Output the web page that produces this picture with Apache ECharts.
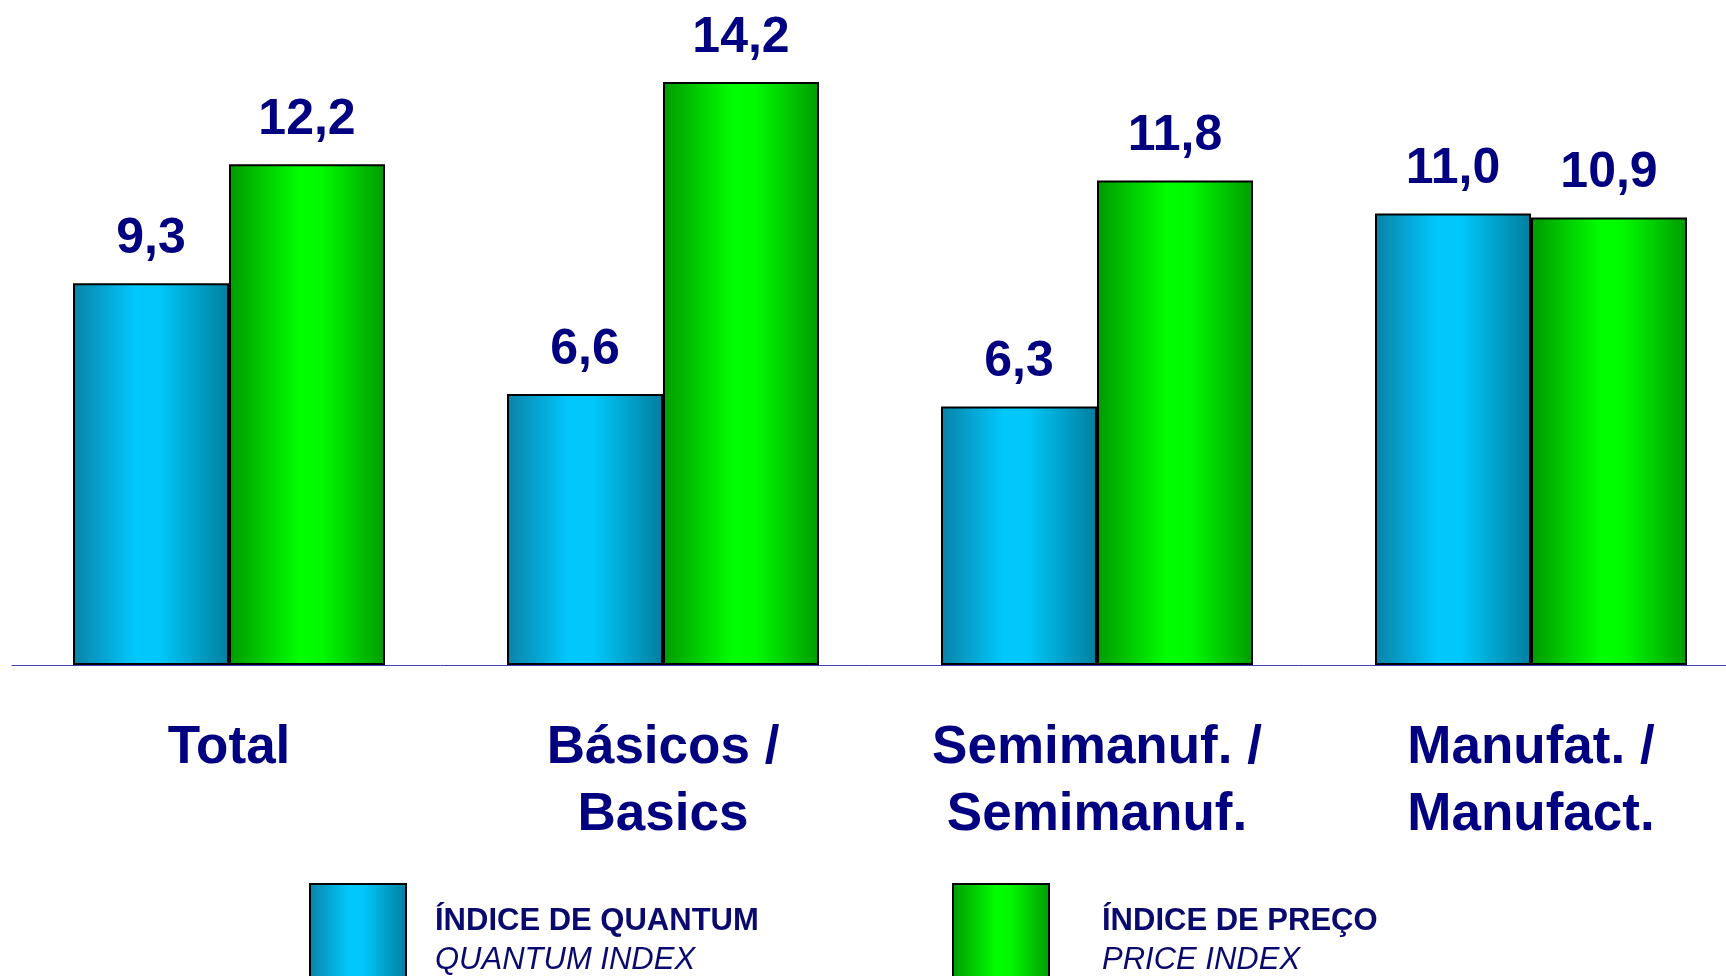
<!DOCTYPE html>
<html>
<head>
<meta charset="utf-8">
<script src="https://cdn.jsdelivr.net/npm/echarts@6/dist/echarts.min.js"></script>
<style>
html,body{margin:0;padding:0;background:#fff;overflow:hidden;}
#main{width:1726px;height:976px;}
</style>
</head>
<body>
<div id="main"></div>
<script>
const categories = ['Total', 'Básicos /\nBasics', 'Semimanuf. /\nSemimanuf.', 'Manufat. /\nManufact.'];
const quantumValues = [9.3, 6.6, 6.3, 11.0];
const priceValues = [12.2, 14.2, 11.8, 10.9];
const seriesNames = ['ÍNDICE DE QUANTUM', 'ÍNDICE DE PREÇO'];
const seriesNamesEn = ['QUANTUM INDEX', 'PRICE INDEX'];

const FONT = "'Liberation Sans', Arial, Helvetica, sans-serif";
const NAVY = '#000080';

const blueGrad = new echarts.graphic.LinearGradient(0, 0, 1, 0, [
  {offset: 0, color: '#0a82a8'},
  {offset: 0.4, color: '#00c8fc'},
  {offset: 0.55, color: '#00c8fa'},
  {offset: 1, color: '#007e9e'}
]);
const greenGrad = new echarts.graphic.LinearGradient(0, 0, 1, 0, [
  {offset: 0, color: '#009a00'},
  {offset: 0.45, color: '#00ff00'},
  {offset: 0.6, color: '#00f800'},
  {offset: 1, color: '#009c00'}
]);

function fmt(v){ return v.toFixed(1).replace('.', ','); }

const chart = echarts.init(document.getElementById('main'), null, {renderer: 'canvas'});

const legendRich = {
  a: {fontFamily: FONT, fontWeight: 'bold', fontSize: 31, color: '#0a0a6e', lineHeight: 39},
  b: {fontFamily: FONT, fontStyle: 'italic', fontWeight: 'normal', fontSize: 31, color: '#0a0a6e', lineHeight: 39}
};

chart.setOption({
  animation: false,
  backgroundColor: '#ffffff',
  grid: {left: 12, width: 1736, top: 0, bottom: 311, containLabel: false, outerBoundsMode: 'none'},
  legend: [
    {
      data: [seriesNames[0]],
      left: 309, top: 883, padding: 0,
      itemWidth: 96, itemHeight: 110,
      icon: 'rect',
      selectedMode: false,
      formatter: function(){ return '{a|' + seriesNames[0] + '}\n{b|' + seriesNamesEn[0] + '}'; },
      textStyle: {rich: legendRich, padding: [4, 0, 0, 24]}
    },
    {
      data: [seriesNames[1]],
      left: 952, top: 883, padding: 0,
      itemWidth: 96, itemHeight: 110,
      icon: 'rect',
      selectedMode: false,
      formatter: function(){ return '{a|' + seriesNames[1] + '}\n{b|' + seriesNamesEn[1] + '}'; },
      textStyle: {rich: legendRich, padding: [4, 0, 0, 48]}
    }
  ],
  xAxis: {
    type: 'category',
    data: categories,
    axisLine: {show: true, lineStyle: {color: '#4040b0', width: 1}},
    axisTick: {show: false},
    axisLabel: {
      margin: 50,
      fontFamily: FONT, fontWeight: 'bold', fontSize: 53, color: NAVY,
      lineHeight: 67, verticalAlign: 'top', interval: 0
    }
  },
  yAxis: {
    type: 'value', min: 0, max: 16.2,
    show: false,
    splitLine: {show: false}
  },
  series: [
    {
      name: seriesNames[0], type: 'bar', data: quantumValues,
      barWidth: 156, barGap: '0%',
      itemStyle: {color: blueGrad, borderColor: '#000000', borderWidth: 2},
      label: {
        show: true, position: 'top', distance: 19,
        formatter: function(p){ return fmt(p.value); },
        fontFamily: FONT, fontWeight: 'bold', fontSize: 50, lineHeight: 50, color: NAVY
      }
    },
    {
      name: seriesNames[1], type: 'bar', data: priceValues,
      barWidth: 156, barGap: '0%',
      itemStyle: {color: greenGrad, borderColor: '#000000', borderWidth: 2},
      label: {
        show: true, position: 'top', distance: 19,
        formatter: function(p){ return fmt(p.value); },
        fontFamily: FONT, fontWeight: 'bold', fontSize: 50, lineHeight: 50, color: NAVY
      }
    }
  ]
});
</script>
</body>
</html>
